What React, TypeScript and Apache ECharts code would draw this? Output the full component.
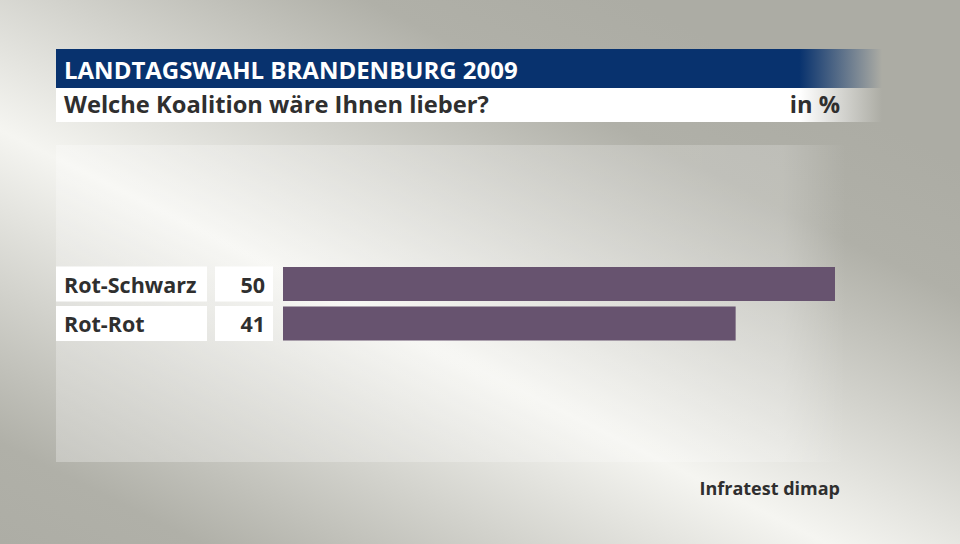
import React, { useEffect, useRef } from "react";
import * as echarts from "echarts";

const categories = ["Rot-Schwarz", "Rot-Rot"];
const values = [50, 41];
const titleText = "LANDTAGSWAHL BRANDENBURG 2009";
const subtitleText = "Welche Koalition wäre Ihnen lieber?";
const unitText = "in %";
const sourceText = "Infratest dimap";

const FONT = "'Open Sans'";
const TEXT_COLOR = "#2f2f2f";
const BAR_COLOR = "#67536f";
const BLUE = "8,50,110";

export default function App() {
  const ref = useRef<HTMLDivElement>(null);
  useEffect(() => {
    if (!ref.current) return;
    const chart = echarts.init(ref.current, undefined, { renderer: "svg" });
    const option: any = {
      animation: false,
      graphic: [
        {
          type: "rect",
          z: -20,
          shape: { x: 0, y: 0, width: 960, height: 544 },
          style: {
            fill: new echarts.graphic.LinearGradient(579, -28, 221, 688, [
              { offset: 0, color: "#acaca4" },
              { offset: 0.15, color: "#b0b0a8" },
              { offset: 0.5, color: "#f5f5f1" },
              { offset: 0.85, color: "#b0b0a8" },
              { offset: 1, color: "#acaca4" },
            ], true),
          },
        },
        {
          type: "rect",
          z: -19,
          shape: { x: 56, y: 145, width: 790, height: 317 },
          style: {
            fill: new echarts.graphic.LinearGradient(0, 0, 1, 0, [
              { offset: 0, color: "rgba(255,255,255,0.28)" },
              { offset: 0.92, color: "rgba(255,255,255,0.2)" },
              { offset: 1, color: "rgba(255,255,255,0)" },
            ]),
          },
        },
        {
          type: "rect",
          z: -18,
          shape: { x: 56, y: 49, width: 826, height: 39 },
          style: {
            fill: new echarts.graphic.LinearGradient(0, 0, 1, 0, [
              { offset: 0, color: `rgba(${BLUE},1)` },
              { offset: 0.9, color: `rgba(${BLUE},1)` },
              { offset: 1, color: `rgba(${BLUE},0)` },
            ]),
          },
        },
        {
          type: "rect",
          z: -18,
          shape: { x: 56, y: 88, width: 826, height: 34 },
          style: {
            fill: new echarts.graphic.LinearGradient(0, 0, 1, 0, [
              { offset: 0, color: "rgba(255,255,255,1)" },
              { offset: 0.9, color: "rgba(255,255,255,1)" },
              { offset: 1, color: "rgba(255,255,255,0)" },
            ]),
          },
        },
        {
          type: "text",
          z: 10,
          x: 64,
          y: 69,
          style: {
            text: titleText,
            fill: "#ffffff",
            font: `bold 24px ${FONT}`,
            verticalAlign: "middle",
          },
        },
        {
          type: "text",
          z: 10,
          x: 64,
          y: 104,
          style: {
            text: subtitleText,
            fill: TEXT_COLOR,
            font: `bold 23.7px ${FONT}`,
            verticalAlign: "middle",
          },
        },
        {
          type: "text",
          z: 10,
          x: 840,
          y: 104,
          style: {
            text: unitText,
            fill: TEXT_COLOR,
            font: `bold 23.7px ${FONT}`,
            align: "right",
            verticalAlign: "middle",
          },
        },
        {
          type: "text",
          z: 10,
          x: 840,
          y: 488,
          style: {
            text: sourceText,
            fill: TEXT_COLOR,
            font: `bold 18px ${FONT}`,
            align: "right",
            verticalAlign: "middle",
          },
        },
      ],
      grid: { left: 283, right: 125, top: 264.25, height: 79, containLabel: false },
      xAxis: {
        type: "value",
        min: 0,
        max: 50,
        show: false,
      },
      yAxis: {
        type: "category",
        data: categories,
        inverse: true,
        axisLine: { show: false },
        axisTick: { show: false },
        splitLine: { show: false },
        axisLabel: {
          margin: 10,
          formatter: (v: string, i: number) => `{n|${v}}{g|}{v|${values[i]}}`,
          rich: {
            n: {
              width: 143,
              height: 35,
              padding: [0, 0, 0, 8],
              backgroundColor: "#ffffff",
              color: TEXT_COLOR,
              fontFamily: FONT,
              fontWeight: "bold",
              fontSize: 21.5,
              align: "left",
              verticalAlign: "middle",
            },
            g: { width: 8, height: 35 },
            v: {
              width: 50,
              height: 35,
              padding: [0, 8, 0, 0],
              backgroundColor: "#ffffff",
              color: TEXT_COLOR,
              fontFamily: FONT,
              fontWeight: "bold",
              fontSize: 21.5,
              align: "right",
              verticalAlign: "middle",
            },
          },
        },
      },
      series: [
        {
          type: "bar",
          data: values,
          barWidth: 34,
          itemStyle: { color: BAR_COLOR },
          silent: true,
        },
      ],
    };
    chart.setOption(option);
    return () => chart.dispose();
  }, []);
  return <div ref={ref} style={{ width: 960, height: 544, position: "absolute", left: 0, top: 0 }} />;
}
